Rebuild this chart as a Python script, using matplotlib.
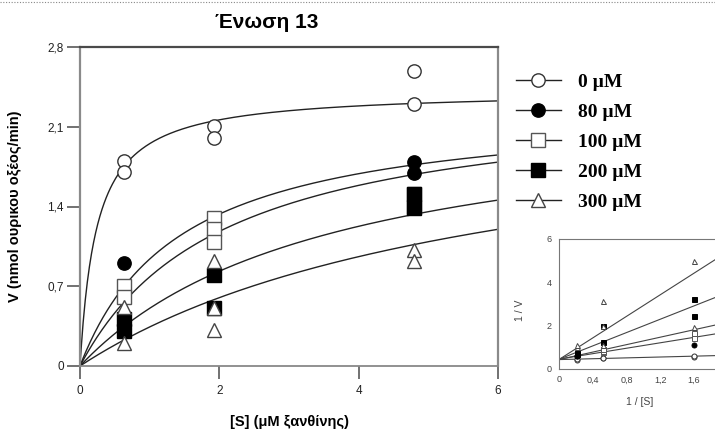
import matplotlib
matplotlib.use("Agg")
import matplotlib.pyplot as plt
import numpy as np
from matplotlib.lines import Line2D
from matplotlib.font_manager import FontProperties

# ---------------- data ----------------
labels = ["0 µM", "80 µM", "100 µM", "200 µM", "300 µM"]

s_0 = [0.625, 0.625, 1.92, 1.92, 4.8, 4.8]
v_0 = [1.80, 1.70, 2.11, 2.00, 2.59, 2.30]

s_80 = [0.625, 4.8, 4.8]
v_80 = [0.90, 1.79, 1.69]

s_100 = [0.625, 0.625, 1.92, 1.92, 1.92, 4.8, 4.8]
v_100 = [0.70, 0.61, 1.30, 1.20, 1.09, 1.51, 1.40]

s_200 = [0.625, 0.625, 1.92, 1.92, 4.8, 4.8]
v_200 = [0.41, 0.31, 0.80, 0.51, 1.51, 1.39]

s_300 = [0.625, 0.625, 1.92, 1.92, 1.92, 4.8, 4.8]
v_300 = [0.52, 0.20, 0.92, 0.51, 0.32, 1.02, 0.92]

# fitted Michaelis-Menten parameters
vmax = [2.42, 2.30, 2.41, 2.33, 2.40]
km = [0.24, 1.45, 2.08, 3.60, 6.00]

main_xticks = [0, 2, 4, 6]
main_xticklabels = ["0", "2", "4", "6"]
main_yticks = [0, 0.7, 1.4, 2.1, 2.8]
main_yticklabels = ["0", "0,7", "1,4", "2,1", "2,8"]

inset_xticks = [0, 0.4, 0.8, 1.2, 1.6]
inset_xticklabels = ["0", "0,4", "0,8", "1,2", "1,6"]
inset_yticks = [0, 2, 4, 6]
inset_yticklabels = ["0", "2", "4", "6"]

# ---------------- styles ----------------
markers = ["o", "o", "s", "s", "^"]
facecols = ["white", "black", "white", "black", "white"]
edgecols = ["#333333", "black", "#555555", "black", "#444444"]
series_s = [s_0, s_80, s_100, s_200, s_300]
series_v = [v_0, v_80, v_100, v_200, v_300]
zorders = [4, 4, 5, 6, 7]

W, H = 715, 430
fig = plt.figure(figsize=(W / 100, H / 100), dpi=100)

sans = "Liberation Sans"

ax = fig.add_axes([80 / W, 1 - 366 / H, (498 - 80) / W, (366 - 47) / H])
ax.set_xlim(0, 6)
ax.set_ylim(0, 2.8)

xs = np.linspace(0, 6, 400)
for vm, k in zip(vmax, km):
    ax.plot(xs, vm * xs / (k + xs), color="#222222", lw=1.0, zorder=2, clip_on=False)

for s, v, m, fc, ec, z in zip(series_s, series_v, markers, facecols, edgecols, zorders):
    ax.plot(s, v, ls="none", marker=m, ms=9.6 if m != "^" else 10.5,
            mfc=fc, mec=ec, mew=1.0, zorder=z, clip_on=False)

ax.set_xticks(main_xticks)
ax.set_xticklabels(main_xticklabels)
ax.set_yticks(main_yticks)
ax.set_yticklabels(main_yticklabels)
ax.tick_params(axis="both", direction="out", length=9.5, width=1.3, colors="#666666",
               labelcolor="#222222", labelsize=8.5)
ax.tick_params(axis="x", pad=4)
ax.tick_params(axis="y", pad=2)
for lab in ax.get_xticklabels() + ax.get_yticklabels():
    lab.set_family(sans)

ax.spines["left"].set_color("#8a8a8a")
ax.spines["left"].set_linewidth(1.6)
ax.spines["right"].set_color("#8a8a8a")
ax.spines["right"].set_linewidth(1.6)
ax.spines["top"].set_color("#4a4a4a")
ax.spines["top"].set_linewidth(1.6)
ax.spines["bottom"].set_color("#888888")
ax.spines["bottom"].set_linewidth(1.3)

fig.text(267 / W, 1 - 23 / H, "Ένωση 13", ha="center", va="center",
         fontsize=15, fontweight="bold", family=sans)
fig.text(289 / W, 1 - 422 / H, "[S] (μM ξανθίνης)", ha="center", va="center",
         fontsize=10.5, fontweight="bold", family=sans)
fig.text(15 / W, 1 - 206 / H, "V (nmol ουρικου οξέος/min)", ha="center", va="center",
         rotation=90, fontsize=10.5, fontweight="bold", family=sans)

# dotted border at very top
fig.add_artist(Line2D([0, 1], [1 - 1.5 / H, 1 - 1.5 / H], transform=fig.transFigure,
                      color="#888888", lw=0.8, ls=(0, (1, 1.5))))

# ---------------- legend ----------------
handles = []
for m, fc, ec in zip(markers, facecols, edgecols):
    handles.append(Line2D([0], [0], color="#222222", lw=1.0, marker=m,
                          ms=9.6 if m != "^" else 10.5, mfc=fc, mec=ec, mew=1.0))
fig.legend(handles, labels, loc="upper left", bbox_to_anchor=(516 / W, 1 - 73 / H),
           frameon=False, borderpad=0, borderaxespad=0,
           prop=FontProperties(family="Liberation Serif", weight="bold", size=14),
           handlelength=2.3, handletextpad=0.9, labelspacing=0.64)

# ---------------- inset (Lineweaver-Burk) ----------------
ax2 = fig.add_axes([559 / W, 1 - 368.5 / H, 2.0 * 84.4 / W, (368.5 - 239) / H])
ax2.set_xlim(0, 2.0)
ax2.set_ylim(0, 6)
xi = np.linspace(0, 2.0, 50)
for vm, k in zip(vmax, km):
    ax2.plot(xi, 1 / vm + (k / vm) * xi, color="#444444", lw=0.8, zorder=2)
for s, v, m, fc, ec in zip(series_s, series_v, markers, facecols, edgecols):
    ax2.plot(1 / np.array(s), 1 / np.array(v), ls="none", marker=m, ms=3.6,
             mfc=fc, mec=ec, mew=0.7, zorder=4, clip_on=False)
ax2.set_xticks(inset_xticks)
ax2.set_xticklabels(inset_xticklabels)
ax2.set_yticks(inset_yticks)
ax2.set_yticklabels(inset_yticklabels)
ax2.tick_params(axis="both", length=0, pad=5, labelsize=6.5, labelcolor="#444444")
for lab in ax2.get_xticklabels() + ax2.get_yticklabels():
    lab.set_family(sans)
for sp in ["left", "top", "bottom"]:
    ax2.spines[sp].set_color("#777777")
    ax2.spines[sp].set_linewidth(0.8)
ax2.spines["right"].set_visible(False)
fig.text(640 / W, 1 - 402 / H, "1 / [S]", ha="center", va="center",
         fontsize=7.5, color="#444444", family=sans)
fig.text(520 / W, 1 - 310 / H, "1 / V", ha="center", va="center", rotation=90,
         fontsize=7.5, color="#444444", family=sans)

fig.savefig("out.png", dpi=100)
